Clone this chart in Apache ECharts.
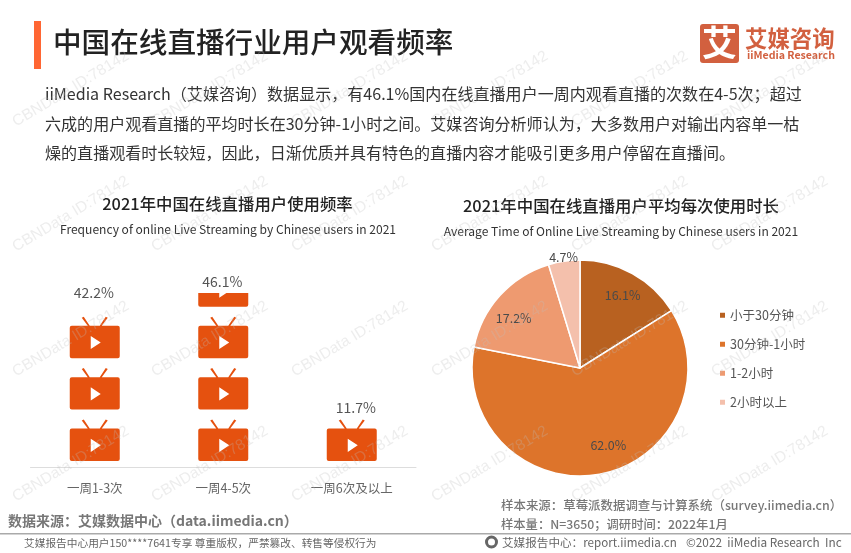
<!DOCTYPE html>
<html>
<head>
<meta charset="utf-8">
<style>
  html, body { margin: 0; padding: 0; background: #fff; }
  #chart { width: 851px; height: 553px; }
</style>
<script src="https://cdn.jsdelivr.net/npm/echarts@6/dist/echarts.min.js"></script>
</head>
<body>
<div id="chart"></div>
<script>
  const freqCategories = ['一周1-3次', '一周4-5次', '一周6次及以上']
  const freqValues = [42.2, 46.1, 11.7]
  const freqLabelOffsets = [[-1, -3], [-1, 1], [4, 1]]

  const durationCategories = ['小于30分钟', '30分钟-1小时', '1-2小时', '2小时以上']
  const durationValues = [16.1, 62.0, 17.2, 4.7]
  const durationColors = ['#B86120', '#DD742B', '#EE9A70', '#F4C0AC']
  const durationLabelOffsets = [[15, -23], [18, 21], [-24, -12], [-8, -54]]

  const bodyLines = [
    'iiMedia Research（艾媒咨询）数据显示，有46.1%国内在线直播用户一周内观看直播的次数在4-5次；超过',
    '六成的用户观看直播的平均时长在30分钟-1小时之间。艾媒咨询分析师认为，大多数用户对输出内容单一枯',
    '燥的直播观看时长较短，因此，日渐优质并具有特色的直播内容才能吸引更多用户停留在直播间。',
  ]

  const CJK = '"Noto Sans CJK SC", "Noto Sans", sans-serif'
  // tv icon, play triangle wound the other way so it is a hole
  const tvIcon =
    'path://M2 9H48Q50 9 50 11V39Q50 41 48 41H2Q0 41 0 39V11Q0 9 2 9Z' +
    'M21 19L21 32L31 25.5Z' +
    'M12 1L14 0L20 9H18Z M38 1L36 0L30 9H32Z'

  function text(str, x, y, size, color, extra) {
    return {
      type: 'text',
      x,
      y,
      silent: true,
      style: Object.assign(
        {
          text: str,
          fontSize: size,
          fontFamily: CJK,
          fill: color,
          verticalAlign: 'middle',
        },
        extra || {}
      ),
    }
  }

  function watermarks() {
    const out = []
    ;[18, 157, 297, 437, 577, 717].forEach((x) => {
      ;[130, 255, 380, 505].forEach((y) => {
        out.push({
          type: 'text',
          x,
          y,
          rotation: (31 * Math.PI) / 180,
          z: 100,
          silent: true,
          style: {
            text: 'CBNData ID:78142',
            fontSize: 15.5,
            fontFamily: '"Liberation Sans", sans-serif',
            fill: 'rgba(190,190,190,0.28)',
            verticalAlign: 'bottom',
          },
        })
      })
    })
    return out
  }

  const graphics = [
    { type: 'rect', shape: { x: 34, y: 21, width: 7, height: 48 }, style: { fill: '#FF6633' }, silent: true },
    text('中国在线直播行业用户观看频率', 53, 42, 28.6, '#222', { fontWeight: 500 }),
    text(bodyLines[0], 45, 94, 16.06, '#333'),
    text(bodyLines[1], 45, 124, 16.06, '#333'),
    text(bodyLines[2], 45, 153, 16.06, '#333'),

    text('2021年中国在线直播用户使用频率', 227.5, 204, 16.4, '#222', { fontWeight: 500, align: 'center' }),
    text('Frequency of online Live Streaming by Chinese users in 2021', 228, 229, 12.05, '#333', { align: 'center' }),
    text('2021年中国在线直播用户平均每次使用时长', 621, 206, 16.4, '#222', { fontWeight: 500, align: 'center' }),
    text('Average Time of Online Live Streaming by Chinese users in 2021', 621, 231, 12.05, '#333', { align: 'center' }),

    // logo
    { type: 'rect', shape: { x: 700, y: 24, width: 39, height: 39, r: 3 }, style: { fill: '#D2603F' }, silent: true },
    text('艾', 719.5, 43, 35, '#fff', { fontWeight: 700, align: 'center' }),
    text('艾媒咨询', 745, 38, 22.4, '#D2603F', { fontWeight: 700 }),
    text('iiMedia Research', 747, 55, 10.6, '#D2603F', { fontWeight: 700 }),

    // footer
    text('数据来源：艾媒数据中心（data.iimedia.cn）', 8, 521, 14, '#777', { fontWeight: 700 }),
    text('样本来源：草莓派数据调查与计算系统（survey.iimedia.cn）', 501, 505, 12.45, '#777', { fontWeight: 500 }),
    text('样本量：N=3650；调研时间：2022年1月', 501, 524, 12.3, '#777', { fontWeight: 500 }),
    { type: 'rect', shape: { x: 0, y: 533, width: 851, height: 1.5 }, style: { fill: '#aaa' }, silent: true },
    text('艾媒报告中心用户150****7641专享 尊重版权，严禁篡改、转售等侵权行为', 24, 543, 10.7, '#666'),
    { type: 'circle', shape: { cx: 491.5, cy: 542, r: 5 }, style: { fill: 'none', stroke: '#666', lineWidth: 3 }, silent: true },
    text('艾媒报告中心：report.iimedia.cn', 502, 543, 11.6, '#666'),
    text('©2022  iiMedia Research  Inc', 686, 543, 11.8, '#666'),
  ].concat(watermarks())

  const chart = echarts.init(document.getElementById('chart'))
  chart.setOption({
    animation: false,
    textStyle: { fontFamily: CJK },
    grid: { left: 30.5, width: 385.5, top: 293, height: 174 },
    xAxis: {
      type: 'category',
      data: freqCategories,
      axisLine: { onZero: false, lineStyle: { color: '#ddd' } },
      axisTick: { length: 4, lineStyle: { color: '#ddd' } },
      axisLabel: { color: '#666', fontSize: 12.5, margin: 15 },
    },
    yAxis: { type: 'value', min: -1.65, max: 46.1, show: false },
    legend: {
      orient: 'vertical',
      left: 713,
      top: 304,
      itemWidth: 7,
      itemHeight: 7,
      itemGap: 16.5,
      icon: 'rect',
      data: durationCategories,
      textStyle: { color: '#555', fontSize: 12.5, padding: [0, 0, 0, -1] },
    },
    graphic: graphics,
    series: [
      {
        type: 'pictorialBar',
        symbol: tvIcon,
        symbolSize: [50, 41.5],
        symbolRepeat: 'fixed',
        symbolClip: true,
        symbolMargin: 5,
        symbolBoundingData: 53.7,
        clip: false,
        itemStyle: { color: '#E5510F' },
        data: freqValues,
      },
      {
        // invisible bars, only carry the value labels at the real bar height
        type: 'bar',
        barWidth: 50,
        barGap: '-100%',
        itemStyle: { color: 'rgba(0,0,0,0)' },
        data: freqValues.map((v, i) => ({
          value: v,
          label: {
            show: true,
            position: 'top',
            offset: freqLabelOffsets[i],
            formatter: (p) => p.value.toFixed(1) + '%',
            color: '#555',
            fontSize: 14,
          },
        })),
      },
      {
        type: 'pie',
        center: [580, 368],
        radius: [0, 108],
        startAngle: 90,
        itemStyle: { borderColor: '#fff', borderWidth: 1.5 },
        labelLine: { show: false },
        data: durationCategories.map((name, i) => ({
          name,
          value: durationValues[i],
          itemStyle: { color: durationColors[i] },
          label: {
            show: true,
            position: 'inside',
            offset: durationLabelOffsets[i],
            formatter: (p) => p.value.toFixed(1) + '%',
            color: '#4a4a4a',
            fontSize: 12.5,
          },
        })),
      },
    ],
  })
</script>
</body>
</html>
